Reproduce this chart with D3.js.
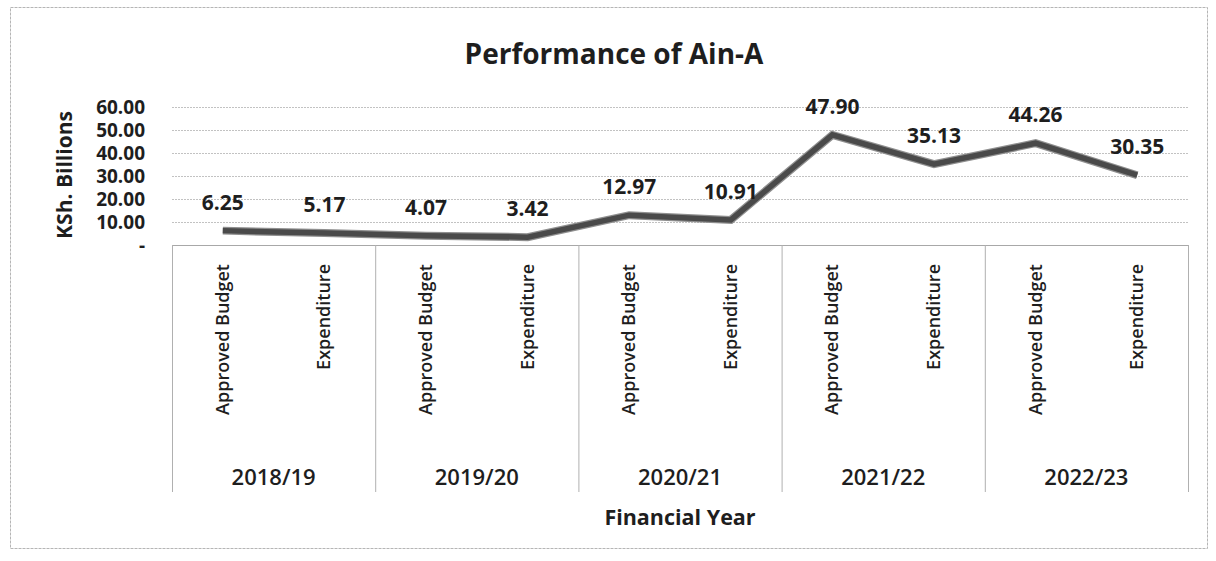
<!DOCTYPE html>
<html>
<head>
<meta charset="utf-8">
<script src="https://cdn.jsdelivr.net/npm/d3@7"></script>
<style>
  body { margin: 0; background: #fff; }
  text { font-family: "Open Sans", Lato, sans-serif; fill: #1e1e1e; }
</style>
</head>
<body>
<svg id="chart" width="1216" height="561"></svg>
<script>
// chart data
const years = ['2018/19', '2019/20', '2020/21', '2021/22', '2022/23']
const kinds = ['Approved Budget', 'Expenditure']
const values = [6.25, 5.17, 4.07, 3.42, 12.97, 10.91, 47.90, 35.13, 44.26, 30.35]
const yTicks = [0, 10, 20, 30, 40, 50, 60]

const svg = d3.select('#chart')
const plotLeft = 172, plotRight = 1188, plotTop = 107, plotBottom = 245, boxBottom = 492

// outer frame
svg.append('rect')
  .attr('x', 10.5).attr('y', 7.5)
  .attr('width', 1197).attr('height', 541)
  .attr('fill', 'none')
  .attr('stroke', '#b5b5b5')
  .attr('stroke-dasharray', '3,1')

svg.append('text')
  .attr('x', 614).attr('y', 64)
  .attr('text-anchor', 'middle')
  .attr('font-size', '28px')
  .attr('font-weight', 'bold')
  .text('Performance of Ain-A')

// one slot per (year, kind)
const cats = []
years.forEach(yr => kinds.forEach(k => cats.push(yr + '|' + k)))

const x = d3.scaleBand().domain(cats).range([plotLeft, plotRight])
const xYear = d3.scaleBand().domain(years).range([plotLeft, plotRight])
const y = d3.scaleLinear().domain([0, 60]).range([plotBottom, plotTop])

// gridlines
svg.append('g').selectAll('line')
  .data(yTicks.filter(d => d > 0))
  .enter().append('line')
  .attr('x1', plotLeft).attr('x2', plotRight)
  .attr('y1', d => y(d) + 0.5).attr('y2', d => y(d) + 0.5)
  .attr('stroke', '#c2c2c2')
  .attr('stroke-dasharray', '2,1')

// y axis labels
const yAxis = d3.axisLeft(y)
  .tickValues(yTicks)
  .tickSize(0)
  .tickPadding(27)
  .tickFormat(d => d === 0 ? '-' : d3.format('.2f')(d))

const yG = svg.append('g').attr('transform', `translate(${plotLeft},0)`).call(yAxis)
yG.select('.domain').remove()
yG.selectAll('text')
  .attr('font-size', '19px')
  .attr('font-weight', 'bold')
  .attr('font-family', '"Open Sans", sans-serif')
  .attr('fill', '#1e1e1e')

svg.append('text')
  .attr('transform', 'translate(72,175) rotate(-90)')
  .attr('text-anchor', 'middle')
  .attr('font-size', '21px')
  .attr('font-weight', 'bold')
  .text('KSh. Billions')

// category boxes
svg.append('line')
  .attr('x1', plotLeft).attr('x2', plotRight)
  .attr('y1', plotBottom + 0.5).attr('y2', plotBottom + 0.5)
  .attr('stroke', '#a8a8a8')

const bounds = years.map(d => xYear(d)).concat([plotRight])
svg.append('g').selectAll('line')
  .data(bounds)
  .enter().append('line')
  .attr('x1', d => d + 0.5).attr('x2', d => d + 0.5)
  .attr('y1', plotBottom).attr('y2', boxBottom)
  .attr('stroke', '#b0b0b0')

svg.append('g').selectAll('text')
  .data(cats)
  .enter().append('text')
  .attr('transform', d => `translate(${x(d) + x.bandwidth() / 2 + 6},264) rotate(-90)`)
  .attr('text-anchor', 'end')
  .attr('font-size', '18px')
  .attr('font-weight', '600')
  .text(d => d.split('|')[1])

svg.append('g').selectAll('text')
  .data(years)
  .enter().append('text')
  .attr('x', d => xYear(d) + xYear.bandwidth() / 2)
  .attr('y', 485)
  .attr('text-anchor', 'middle')
  .attr('font-size', '22px')
  .attr('font-weight', '600')
  .text(d => d)

svg.append('text')
  .attr('x', (plotLeft + plotRight) / 2).attr('y', 525)
  .attr('text-anchor', 'middle')
  .attr('font-size', '21.5px')
  .attr('font-weight', 'bold')
  .text('Financial Year')

// the line
const line = d3.line()
  .x((d, i) => x(cats[i]) + x.bandwidth() / 2)
  .y(d => y(d))

svg.append('path')
  .datum(values)
  .attr('d', line)
  .attr('fill', 'none')
  .attr('stroke', '#8f8f8f')
  .attr('stroke-width', 8)
  .attr('stroke-linejoin', 'miter')

svg.append('path')
  .datum(values)
  .attr('d', line)
  .attr('fill', 'none')
  .attr('stroke', '#4a4a4a')
  .attr('stroke-width', 5.5)
  .attr('stroke-linejoin', 'miter')

// data labels
svg.append('g').selectAll('text')
  .data(values)
  .enter().append('text')
  .attr('x', (d, i) => x(cats[i]) + x.bandwidth() / 2)
  .attr('y', d => y(d) - 21)
  .attr('text-anchor', 'middle')
  .attr('font-size', '21px')
  .attr('font-weight', 'bold')
  .text(d => d3.format('.2f')(d))
</script>
</body>
</html>
